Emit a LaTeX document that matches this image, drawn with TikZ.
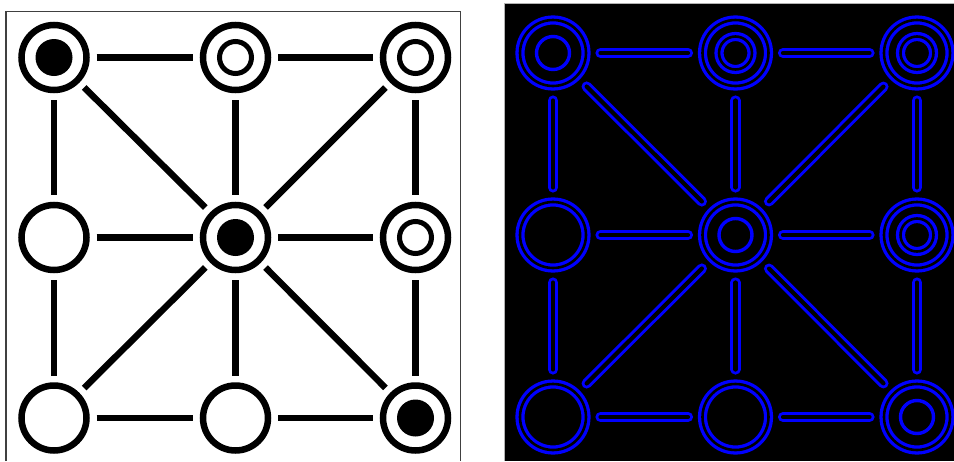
\documentclass[tikz,border=0pt]{standalone}
\begin{document}
\begin{tikzpicture}[x=1pt,y=-1pt,
  % left board: solid strokes
  spot/.style={circle, draw=black, line width=6.5pt, minimum size=65pt,
    inner sep=0pt, outer sep=0pt, fill=white},
  dotspot/.style={spot, path picture={\fill[black]
    (path picture bounding box.center) circle[radius=18.5pt];}},
  ringspot/.style={spot, path picture={\draw[black, line width=5pt]
    (path picture bounding box.center) circle[radius=16pt];}},
  link/.style={draw=black, line width=6.5pt, shorten <=10pt, shorten >=10pt},
  % right board: outlines of the same strokes
  rspot/.style={circle, draw=blue, line width=3.3pt, double=black,
    double distance=2.6pt, minimum size=66pt, inner sep=0pt, outer sep=0pt},
  rdotspot/.style={rspot, path picture={\draw[blue, line width=3.4pt]
    (path picture bounding box.center) circle[radius=16.5pt];}},
  rringspot/.style={rspot, path picture={\draw[blue, line width=3.3pt,
    double=black, double distance=2.6pt]
    (path picture bounding box.center) circle[radius=16.5pt];}},
  rlink/.style={draw=blue, line width=3pt, double=black,
    double distance=4.2pt, line cap=round, shorten <=14.5pt, shorten >=14.5pt},
]
\useasboundingbox (0,0) rectangle (954,461);

% frames
\draw[black!75, line width=1.2pt] (6,461) -- (6,11.5) -- (460.5,11.5) -- (460.5,461);
\fill[black] (504,3.5) rectangle (954,461);
\draw[black!30, line width=1pt] (504,461) -- (504,3.5) -- (954,3.5);

% left board
\node[dotspot]  (a1) at (54,57.5)    {};
\node[ringspot] (a2) at (235.5,57.5) {};
\node[ringspot] (a3) at (415.5,57.5) {};
\node[spot]     (b1) at (54,237.5)   {};
\node[dotspot]  (b2) at (235.5,237.5){};
\node[ringspot] (b3) at (415.5,237.5){};
\node[spot]     (c1) at (54,418)     {};
\node[spot]     (c2) at (235.5,418)  {};
\node[dotspot]  (c3) at (415.5,418)  {};

\foreach \u/\v in {a1/a2,a2/a3,b1/b2,b2/b3,c1/c2,c2/c3,
                   a1/b1,b1/c1,a2/b2,b2/c2,a3/b3,b3/c3,
                   a1/b2,a3/b2,c1/b2,c3/b2}
  \draw[link] (\u) -- (\v);

% right board
\node[rdotspot]  (p1) at (553,53)    {};
\node[rringspot] (p2) at (735.5,53)  {};
\node[rringspot] (p3) at (917,53)    {};
\node[rspot]     (q1) at (553,235)   {};
\node[rdotspot]  (q2) at (735.5,235) {};
\node[rringspot] (q3) at (917,235)   {};
\node[rspot]     (r1) at (553,417)   {};
\node[rspot]     (r2) at (735.5,417) {};
\node[rdotspot]  (r3) at (917,417)   {};

\foreach \u/\v in {p1/p2,p2/p3,q1/q2,q2/q3,r1/r2,r2/r3,
                   p1/q1,q1/r1,p2/q2,q2/r2,p3/q3,q3/r3,
                   p1/q2,p3/q2,r1/q2,r3/q2}
  \draw[rlink] (\u) -- (\v);
\end{tikzpicture}
\end{document}
